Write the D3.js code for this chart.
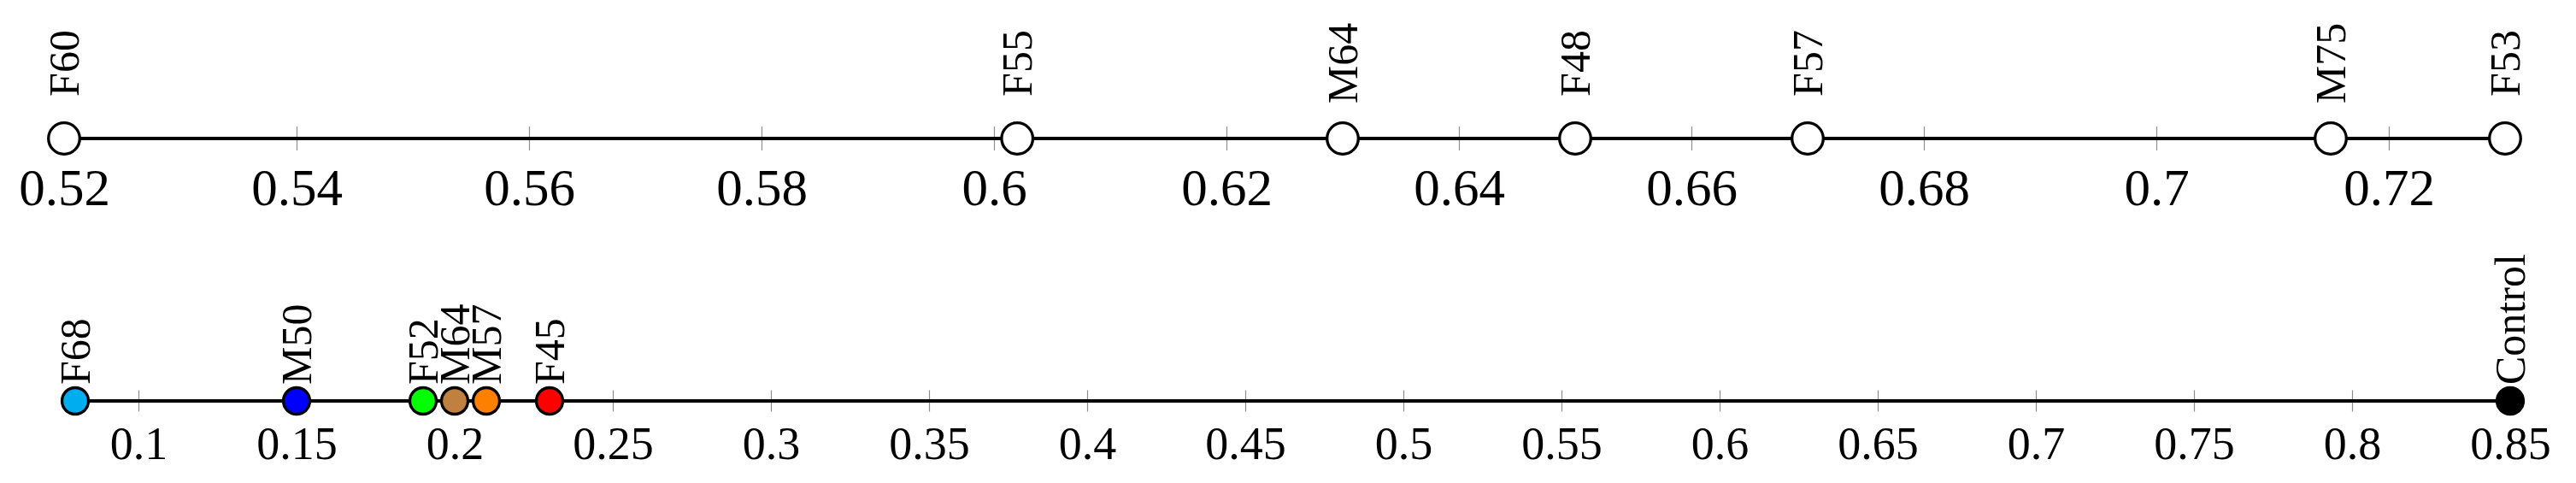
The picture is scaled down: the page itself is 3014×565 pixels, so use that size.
<!DOCTYPE html>
<html>
<head>
<meta charset="utf-8">
<script src="https://cdn.jsdelivr.net/npm/d3@7"></script>
<style>
  body { margin: 0; background: #fff; }
  svg { display: block; font-family: "Liberation Serif", "Times New Roman", serif; }
</style>
</head>
<body>
<script>
// top line: subjects with higher scores
const topNames  = ["F60", "F55", "M64", "F48", "F57", "M75", "F53"];
const topValues = [0.52, 0.602, 0.63, 0.65, 0.67, 0.715, 0.73];
const topTicks  = [0.52, 0.54, 0.56, 0.58, 0.6, 0.62, 0.64, 0.66, 0.68, 0.7, 0.72];

// bottom line: coloured subjects + control
const botNames  = ["F68", "M50", "F52", "M64", "M57", "F45", "Control"];
const botValues = [0.08, 0.15, 0.19, 0.2, 0.21, 0.23, 0.85];
const botColors = ["#00aeef", "#0000ff", "#00ff00", "#bf8040", "#ff8000", "#ff0000", "#000000"];
const botTicks  = [0.1, 0.15, 0.2, 0.25, 0.3, 0.35, 0.4, 0.45, 0.5, 0.55, 0.6, 0.65, 0.7, 0.75, 0.8, 0.85];

const width = 3014, height = 565;

const svg = d3.select("body").append("svg")
    .attr("width", width)
    .attr("height", height);

const xTop = d3.scaleLinear().domain([0.52, 0.73]).range([75, 2931]);
const xBot = d3.scaleLinear().domain([0.08, 0.85]).range([88, 2937]);

function numberLine(cfg) {
  const g = svg.append("g").attr("transform", `translate(0,${cfg.y})`);

  // axis gives tick marks + labels, restyled afterwards
  const axis = d3.axisBottom(cfg.x)
      .tickValues(cfg.ticks)
      .tickFormat(d => String(d));
  const ax = g.append("g").call(axis);
  ax.select(".domain").remove();
  ax.selectAll(".tick line")
      .attr("y1", -cfg.tickLen)
      .attr("y2", cfg.tickLen)
      .attr("stroke", "#8c8c8c")
      .attr("stroke-width", 1.2);
  ax.selectAll(".tick text")
      .attr("y", cfg.labelY)
      .attr("dy", null)
      .attr("fill", "#000")
      .style("font-family", "Liberation Serif, serif")
      .style("font-size", cfg.tickFont + "px");

  // the line itself runs only between the outermost points
  const [lo, hi] = d3.extent(cfg.values);
  g.append("line")
      .attr("x1", cfg.x(lo))
      .attr("x2", cfg.x(hi))
      .attr("stroke", "#000")
      .attr("stroke-width", 4);

  const pts = g.selectAll("g.pt")
    .data(cfg.values.map((v, i) => ({ v, name: cfg.names[i], color: cfg.colors ? cfg.colors[i] : "#fff" })))
    .enter().append("g")
      .attr("class", "pt")
      .attr("transform", d => `translate(${cfg.x(d.v)},0)`);

  pts.append("circle")
      .attr("r", cfg.r)
      .attr("fill", d => d.color)
      .attr("stroke", "#000")
      .attr("stroke-width", 3.3);

  pts.append("text")
      .attr("transform", `translate(0,${cfg.nameY}) rotate(-90)`)
      .attr("dy", "0.33em")
      .attr("text-anchor", cfg.nameAnchor)
      .style("font-size", cfg.nameFont + "px")
      .text(d => d.name);
}

numberLine({
  y: 162, x: xTop, ticks: topTicks, values: topValues, names: topNames,
  tickLen: 14, labelY: 78, tickFont: 61,
  r: 18.3, nameY: -88, nameAnchor: "middle", nameFont: 50
});

numberLine({
  y: 469, x: xBot, ticks: botTicks, values: botValues, names: botNames, colors: botColors,
  tickLen: 12.5, labelY: 68, tickFont: 54,
  r: 15.5, nameY: -19, nameAnchor: "start", nameFont: 50
});
</script>
</body>
</html>
